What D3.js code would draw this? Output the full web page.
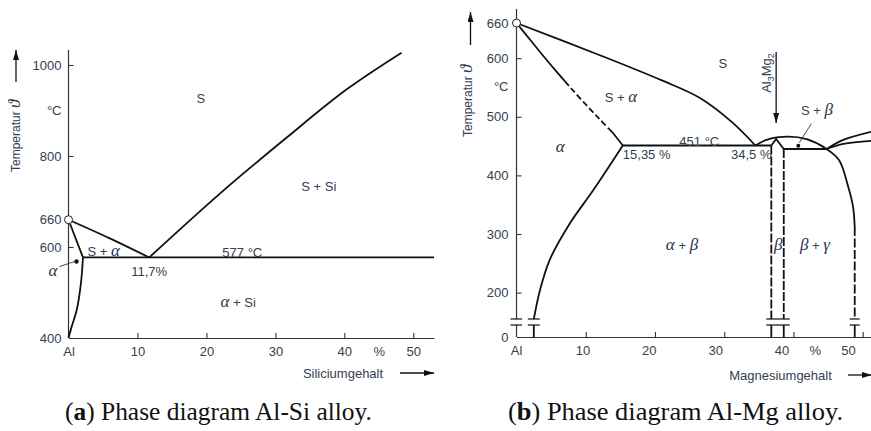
<!DOCTYPE html>
<html>
<head>
<meta charset="utf-8">
<script src="https://cdn.jsdelivr.net/npm/d3@7"></script>
<style>
  body { margin: 0; background: #fff; }
  svg { display: block; }
  .lbl { font-family: "Liberation Sans", Arial, sans-serif; font-size: 13px; fill: #34404f; }
  .small { font-family: "Liberation Sans", Arial, sans-serif; font-size: 12px; fill: #34404f; }
  .greek { font-family: "Liberation Serif", serif; font-style: italic; font-size: 17px; fill: #26334a; }
  .cap { font-family: "Liberation Serif", serif; font-size: 26px; fill: #111; }
  .phase { fill: none; stroke: #111; stroke-width: 1.8; }
  .axisline { stroke: #333; stroke-width: 1.2; fill: none; }
</style>
</head>
<body>
<svg id="chart" width="871" height="431"></svg>
<script>
// ---------- Al-Si diagram ----------
const siXTicks = [10, 20, 30, 40, 50];
const siXLabels = [0, 10, 20, 30, 40, 45, 50];
const siYTicks = [600, 800, 1000];
const siYLabels = [400, 600, 660, 800, 1000];
const siMeltAl = 660;
const siEutecticT = 577;
const siEutecticX = 11.7;
const siSolidusEnd = 2.1;
// liquidus, Al side (wt.% Si, °C)
const siLiquidusAl = [[0, 660], [6, 619], [11.7, 577]];
// liquidus, Si side
const siLiquidusSi = [[11.7, 577], [22, 718], [31.6, 840], [40.3, 946], [48.3, 1027]];
// solidus and solvus of the α solid solution
const siSolidus = [[0, 660], [2.1, 577]];
const siSolvus = [[2.1, 577], [1.8, 520], [1.2, 462], [0.46, 425], [0, 400]];

// ---------- Al-Mg diagram ----------
const mgXTicks = [10, 20, 30, 40, 50];
const mgXLabels = [0, 10, 20, 30, 40, 45, 50];
const mgYTicks = [200, 300, 400, 500, 600];
const mgYLabels = [0, 200, 300, 400, 500, 600, 660];
const mgMeltAl = 660;
const mgEutecticT = 451;
const mgEutecticA = 15.35;
const mgEutecticB = 34.5;
const mgBetaLeft = 36.8;
const mgBetaRight = 38.6;
const mgBetaTop = 37.5;
const mgEutectic2T = 445;
const mgGammaX = 44.8;
const mgBreakLo = 100;
const mgBreakHi = 155;
const mgSolvusX = 2.5;
const mgGammaSolvusX = 48.85;
// liquidus from pure Al to the first eutectic
const mgLiquidusAl = [[0, 660], [12.05, 605], [21, 562], [26.5, 532], [31.2, 490], [34.5, 451]];
// solidus of α: solid, dashed, solid parts
const mgSolidusA = [[0, 660], [2, 631], [4, 602], [6, 574], [7, 560.5]];
const mgSolidusB = [[7, 560.5], [8, 547], [10, 521], [12, 496], [13.5, 477.5]];
const mgSolidusC = [[13.5, 477.5], [13.8, 474], [15.35, 451]];
// solvus of α down to the axis break
const mgSolvusA = [[15.35, 451], [11.1, 375], [7.7, 318], [4.8, 256], [3.4, 204.5], [2.5, 155]];
// liquidus over β and γ solvus
const mgArc = [[34.5, 451], [36.1, 460.5], [39.2, 466], [41.9, 461.7], [44.8, 445],
               [46.6, 426], [47.9, 381], [48.6, 347], [48.85, 312]];
// β phase top
const mgBetaCap = [[36.8, 451], [37.5, 462], [38.6, 445]];
// liquidus / solidus branches on the γ side
const mgGammaUpper = [[44.8, 445], [47.2, 460.5], [51.5, 475]];
const mgGammaLower = [[44.8, 445], [47.2, 453.6], [51.5, 459]];

const svg = d3.select("#chart");

// arrow heads
const defs = svg.append("defs");
defs.append("marker").attr("id", "ah").attr("viewBox", "0 0 10 6")
  .attr("refX", 10).attr("refY", 3).attr("markerWidth", 10).attr("markerHeight", 6)
  .attr("markerUnits", "userSpaceOnUse").attr("orient", "auto")
  .append("path").attr("d", "M0,0 L10,3 L0,6 Z").attr("fill", "#111");

function arrow(x1, y1, x2, y2) {
  svg.append("line").attr("x1", x1).attr("y1", y1).attr("x2", x2).attr("y2", y2)
    .attr("stroke", "#111").attr("stroke-width", 1.3).attr("marker-end", "url(#ah)");
}

// text made of sans and italic greek pieces
function rich(x, y, parts, anchor) {
  const t = svg.append("text").attr("x", x).attr("y", y).attr("dy", "0.35em")
    .attr("text-anchor", anchor || "middle");
  parts.forEach(p => {
    const greek = /[αβγϑ]/.test(p);
    t.append("tspan").attr("class", greek ? "greek" : "lbl").text(p);
  });
  return t;
}

function drawPath(pts, x, y, dash) {
  const line = d3.line().x(d => x(d[0])).y(d => y(d[1])).curve(d3.curveCatmullRom.alpha(0.5));
  const p = svg.append("path").attr("class", "phase").attr("d", line(pts));
  if (dash) p.attr("stroke-dasharray", dash);
  return p;
}

function styleAxis(g) {
  g.selectAll("text").attr("class", "lbl").attr("fill", null).attr("font-size", null).attr("font-family", null);
  g.attr("font-size", null).attr("font-family", null);
  g.selectAll("line").attr("stroke", "#333").attr("stroke-width", 1.1);
}

const fmtX = d => d === 0 ? "Al" : d === 45 ? "%" : d;
const fmtY = d3.format("d");

// ====================== Al-Si ======================
const xSi = d3.scaleLinear().domain([0, 53]).range([68.5, 434]);
const ySi = d3.scaleLinear().domain([400, 1000]).range([338, 65]);
const siTop = 1033;

// axes
const gSiX = svg.append("g").attr("transform", `translate(0,${ySi(400)})`)
  .call(d3.axisBottom(xSi).tickValues(siXTicks).tickSizeInner(-5).tickSizeOuter(0).tickFormat(""));
gSiX.select(".domain").attr("class", "axisline");
styleAxis(gSiX);
const gSiXL = svg.append("g").attr("transform", `translate(0,${ySi(400)})`)
  .call(d3.axisBottom(xSi).tickValues(siXLabels).tickSize(0).tickPadding(9).tickFormat(fmtX));
gSiXL.select(".domain").remove();
styleAxis(gSiXL);

svg.append("line").attr("class", "axisline")
  .attr("x1", xSi(0)).attr("x2", xSi(0)).attr("y1", ySi(400)).attr("y2", ySi(siTop));
const gSiY = svg.append("g").attr("transform", `translate(${xSi(0)},0)`)
  .call(d3.axisLeft(ySi).tickValues(siYTicks).tickSizeInner(-5).tickSizeOuter(0).tickFormat(""));
gSiY.select(".domain").remove();
styleAxis(gSiY);
const gSiYL = svg.append("g").attr("transform", `translate(${xSi(0)},0)`)
  .call(d3.axisLeft(ySi).tickValues(siYLabels).tickSize(0).tickPadding(7).tickFormat(fmtY));
gSiYL.select(".domain").remove();
styleAxis(gSiYL);

svg.append("text").attr("class", "lbl").attr("x", xSi(0) - 7).attr("y", ySi(901))
  .attr("dy", "0.35em").attr("text-anchor", "end").text("°C");

// phase boundaries
drawPath(siLiquidusAl, xSi, ySi);
drawPath(siLiquidusSi, xSi, ySi);
drawPath(siSolidus, xSi, ySi);
drawPath(siSolvus, xSi, ySi);
drawPath([[siSolidusEnd, siEutecticT], [53, siEutecticT]], xSi, ySi);
svg.append("circle").attr("cx", xSi(0)).attr("cy", ySi(siMeltAl)).attr("r", 4)
  .attr("fill", "#fff").attr("stroke", "#222").attr("stroke-width", 1);

// labels
rich(xSi(19.2), ySi(929), ["S"]);
rich(xSi(36.3), ySi(735), ["S + Si"]);
rich(xSi(5.1), ySi(593), ["S + ", "α"]);
rich(xSi(25.2), ySi(590), ["577 °C"]);
rich(xSi(siEutecticX), ySi(549), ["11,7%"]);
rich(xSi(24.6), ySi(480), ["α", " + Si"]);
rich(xSi(0) - 15.5, ySi(549), ["α"]);
svg.append("circle").attr("cx", xSi(1.16)).attr("cy", ySi(568)).attr("r", 2.2).attr("fill", "#111");
svg.append("line").attr("x1", xSi(1.16) - 17).attr("y1", ySi(568) + 5)
  .attr("x2", xSi(1.16) - 2).attr("y2", ySi(568)).attr("stroke", "#333").attr("stroke-width", 0.9);

// axis titles
svg.append("text").attr("class", "small")
  .attr("transform", `translate(16,172) rotate(-90)`).attr("dy", "0.35em")
  .text("Temperatur ").append("tspan").attr("class", "greek").attr("font-size", "13px").text("ϑ");
arrow(16, 82, 16, 50);
svg.append("text").attr("class", "lbl").attr("x", 343).attr("y", 373).attr("dy", "0.35em")
  .attr("text-anchor", "middle").text("Siliciumgehalt");
arrow(400, 373, 434, 373);

// ====================== Al-Mg ======================
const xMg = d3.scaleLinear().domain([0, 51.2]).range([516.5, 871]);
const xMgLabel = d3.scaleLinear().domain([0, 50]).range([516, 848]);
const yMg = d3.scaleLinear().domain([0, mgBreakLo, mgBreakHi, 660]).range([337, 325, 319, 23]);
const mgTop = 684;

const gMgX = svg.append("g").attr("transform", `translate(0,${yMg(0)})`)
  .call(d3.axisBottom(xMg).tickValues(mgXTicks).tickSizeInner(-5).tickSizeOuter(0).tickFormat(""));
gMgX.select(".domain").attr("class", "axisline");
styleAxis(gMgX);
const gMgXL = svg.append("g").attr("transform", `translate(0,${yMg(0)})`)
  .call(d3.axisBottom(xMgLabel).tickValues(mgXLabels).tickSize(0).tickPadding(9).tickFormat(fmtX));
gMgXL.select(".domain").remove();
styleAxis(gMgXL);

// broken temperature axis
svg.append("line").attr("class", "axisline")
  .attr("x1", xMg(0)).attr("x2", xMg(0)).attr("y1", yMg(0)).attr("y2", yMg(mgBreakLo));
svg.append("line").attr("class", "axisline")
  .attr("x1", xMg(0)).attr("x2", xMg(0)).attr("y1", yMg(mgBreakHi)).attr("y2", yMg(mgTop));
const gMgY = svg.append("g").attr("transform", `translate(${xMg(0)},0)`)
  .call(d3.axisLeft(yMg).tickValues(mgYTicks).tickSizeInner(-5).tickSizeOuter(0).tickFormat(""));
gMgY.select(".domain").remove();
styleAxis(gMgY);
const gMgYL = svg.append("g").attr("transform", `translate(${xMg(0)},0)`)
  .call(d3.axisLeft(yMg).tickValues(mgYLabels).tickSize(0).tickPadding(8).tickFormat(fmtY));
gMgYL.select(".domain").remove();
styleAxis(gMgYL);
svg.append("text").attr("class", "lbl").attr("x", xMg(0) - 8).attr("y", yMg(551))
  .attr("dy", "0.35em").attr("text-anchor", "end").text("°C");

// break marks
function breakMarks(x1, x2) {
  [mgBreakLo, mgBreakHi].forEach(t => {
    svg.append("line").attr("x1", x1).attr("x2", x2).attr("y1", yMg(t)).attr("y2", yMg(t))
      .attr("stroke", "#111").attr("stroke-width", 1.2);
  });
}
breakMarks(xMg(0) - 6, xMg(0) + 5.5);
breakMarks(xMg(mgSolvusX) - 6, xMg(mgSolvusX) + 6);
breakMarks(xMg(mgBetaLeft) - 5, xMg(mgBetaRight) + 6);
breakMarks(xMg(mgGammaSolvusX) - 5, xMg(mgGammaSolvusX) + 5);

// phase boundaries
drawPath(mgLiquidusAl, xMg, yMg);
drawPath(mgSolidusA, xMg, yMg);
drawPath(mgSolidusB, xMg, yMg, "6,3");
drawPath(mgSolidusC, xMg, yMg);
drawPath(mgSolvusA, xMg, yMg);
drawPath([[mgSolvusX, mgBreakLo], [mgSolvusX, 0]], xMg, yMg);
drawPath([[mgEutecticA, mgEutecticT], [mgBetaLeft, mgEutecticT]], xMg, yMg);
drawPath(mgArc, xMg, yMg);
drawPath([[mgGammaSolvusX, 312], [mgGammaSolvusX, mgBreakHi]], xMg, yMg, "9,2.5");
drawPath([[mgGammaSolvusX, mgBreakLo], [mgGammaSolvusX, 0]], xMg, yMg);
svg.append("path").attr("class", "phase")
  .attr("d", d3.line().x(d => xMg(d[0])).y(d => yMg(d[1]))(mgBetaCap));
drawPath([[mgBetaLeft, mgEutecticT], [mgBetaLeft, mgBreakHi]], xMg, yMg, "9,2");
drawPath([[mgBetaRight, mgEutectic2T], [mgBetaRight, mgBreakHi]], xMg, yMg, "9,2");
drawPath([[mgBetaLeft, mgBreakLo], [mgBetaLeft, 0]], xMg, yMg);
drawPath([[mgBetaRight, mgBreakLo], [mgBetaRight, 0]], xMg, yMg);
drawPath([[mgBetaRight, mgEutectic2T], [mgGammaX, mgEutectic2T]], xMg, yMg);
drawPath(mgGammaUpper, xMg, yMg);
drawPath(mgGammaLower, xMg, yMg);
svg.append("circle").attr("cx", xMg(0)).attr("cy", yMg(mgMeltAl)).attr("r", 4)
  .attr("fill", "#fff").attr("stroke", "#222").attr("stroke-width", 1);

// labels
rich(xMg(29.8), yMg(592), ["S"]);
rich(xMg(15.1), yMg(534), ["S + ", "α"]);
rich(xMg(6.3), yMg(449), ["α"]);
rich(xMg(26.4), yMg(460.5), ["451 °C"]);
rich(xMg(18.8), yMg(437), ["15,35 %"]);
rich(xMg(33.9), yMg(437), ["34,5 %"]);
rich(xMg(23.9), yMg(283), ["α", " + ", "β"]);
rich(xMg(37.8), yMg(283), ["β"]);
rich(xMg(43.1), yMg(283), ["β", " + ", "γ"]);
rich(xMg(43.4), yMg(512), ["S + ", "β"]);
svg.append("circle").attr("cx", xMg(40.7)).attr("cy", yMg(450.7)).attr("r", 2).attr("fill", "#111");
svg.append("line").attr("x1", xMg(40.7) + 13).attr("y1", yMg(450.7) - 22)
  .attr("x2", xMg(40.7) + 1).attr("y2", yMg(450.7) - 3).attr("stroke", "#333").attr("stroke-width", 0.9);

// Al3Mg2 marker
const comp = svg.append("text").attr("class", "lbl")
  .attr("transform", `translate(${xMg(mgBetaTop) - 10},73) rotate(-90)`)
  .attr("text-anchor", "middle").attr("dy", "0.35em");
comp.append("tspan").text("Al");
comp.append("tspan").attr("font-size", "9px").attr("dy", 3).text("3");
comp.append("tspan").attr("dy", -3).text("Mg");
comp.append("tspan").attr("font-size", "9px").attr("dy", 3).text("2");
arrow(xMg(mgBetaTop), 52, xMg(mgBetaTop), 123);

// axis titles
svg.append("text").attr("class", "small")
  .attr("transform", `translate(468,137) rotate(-90)`).attr("dy", "0.35em")
  .text("Temperatur ").append("tspan").attr("class", "greek").attr("font-size", "13px").text("ϑ");
arrow(470.5, 45, 470.5, 12);
svg.append("text").attr("class", "lbl").attr("x", 780.5).attr("y", 375).attr("dy", "0.35em")
  .attr("text-anchor", "middle").text("Magnesiumgehalt");
arrow(848, 375, 872, 375);

// ====================== captions ======================
function caption(x, width, letter, rest) {
  const t = svg.append("text").attr("class", "cap").attr("x", x).attr("y", 420)
    .attr("textLength", width).attr("lengthAdjust", "spacingAndGlyphs");
  t.append("tspan").text("(");
  t.append("tspan").attr("font-weight", "bold").text(letter);
  t.append("tspan").text(") " + rest);
}
caption(65, 307, "a", "Phase diagram Al-Si alloy.");
caption(508, 335, "b", "Phase diagram Al-Mg alloy.");
</script>
</body>
</html>
